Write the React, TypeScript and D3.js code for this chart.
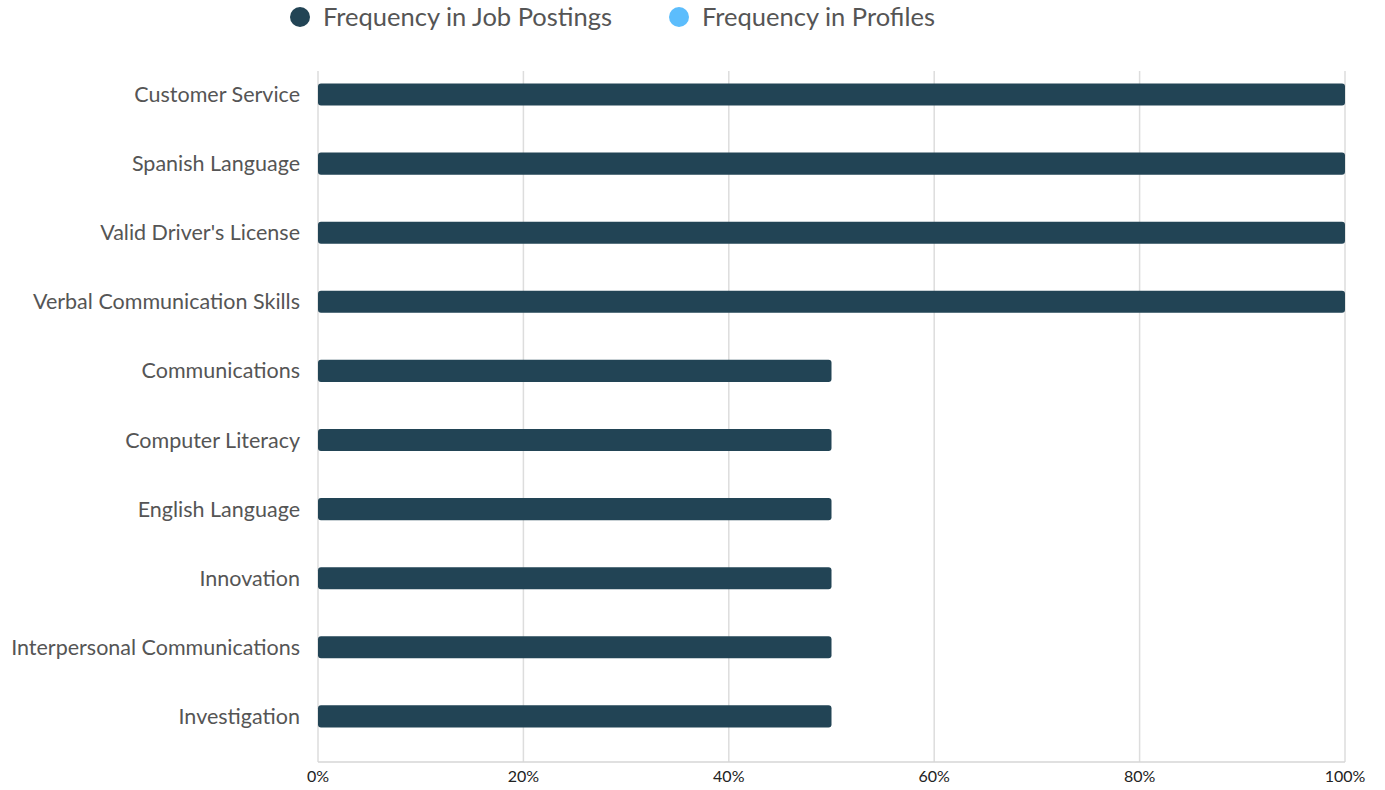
import { useEffect, useRef } from 'react';
import * as d3 from 'd3';

const WIDTH = 1385;
const HEIGHT = 790;
const MARGIN = { top: 71, right: 40, bottom: 28, left: 318 } as const;
const FONT = 'Lato, "Open Sans", sans-serif';

const CATEGORIES = [
  'Customer Service',
  'Spanish Language',
  "Valid Driver's License",
  'Verbal Communication Skills',
  'Communications',
  'Computer Literacy',
  'English Language',
  'Innovation',
  'Interpersonal Communications',
  'Investigation',
];
const JOB_POSTINGS = [1, 1, 1, 1, 0.5, 0.5, 0.5, 0.5, 0.5, 0.5];
const PROFILES = [0, 0, 0, 0, 0, 0, 0, 0, 0, 0];
const SERIES_NAMES = ['Frequency in Job Postings', 'Frequency in Profiles'];
const SERIES_COLORS = ['#224455', '#5cbdfc'];
const X_TICKS = [0, 0.2, 0.4, 0.6, 0.8, 1];

export default function App() {
  const svgRef = useRef<SVGSVGElement | null>(null);

  useEffect(() => {
    const svgEl = svgRef.current;
    if (!svgEl) return;
    const svg = d3.select(svgEl);
    svg.selectAll('*').remove();

    const innerWidth = WIDTH - MARGIN.left - MARGIN.right;
    const innerHeight = HEIGHT - MARGIN.top - MARGIN.bottom;

    const x = d3.scaleLinear().domain([0, 1]).range([0, innerWidth]);
    const y = d3.scaleBand<string>().domain(CATEGORIES).range([0, innerHeight]).paddingInner(0.36).paddingOuter(0.18);
    const ySub = d3.scaleBand<number>().domain([0, 1]).range([0, y.bandwidth()]);

    const root = svg.append('g').attr('transform', `translate(${MARGIN.left}, ${MARGIN.top})`);

    // grid
    root
      .append('g')
      .selectAll('line')
      .data(X_TICKS)
      .join('line')
      .attr('x1', (d) => x(d))
      .attr('x2', (d) => x(d))
      .attr('y1', 0)
      .attr('y2', innerHeight)
      .attr('stroke', '#dddddd')
      .attr('stroke-width', 1.5);

    // bottom axis line
    root
      .append('line')
      .attr('x1', 0)
      .attr('x2', innerWidth)
      .attr('y1', innerHeight)
      .attr('y2', innerHeight)
      .attr('stroke', '#d6d6d6')
      .attr('stroke-width', 1.5);

    // x tick labels
    root
      .append('g')
      .selectAll('text')
      .data(X_TICKS)
      .join('text')
      .attr('x', (d) => x(d))
      .attr('y', innerHeight + 20)
      .attr('text-anchor', 'middle')
      .attr('font-family', FONT)
      .attr('font-size', 16)
      .attr('fill', '#222222')
      .text((d) => `${Math.round(d * 100)}%`);

    // category labels
    root
      .append('g')
      .selectAll('text')
      .data(CATEGORIES)
      .join('text')
      .attr('x', -18)
      .attr('y', (d) => (y(d) ?? 0) + ySub.bandwidth() / 2)
      .attr('dy', '0.35em')
      .attr('text-anchor', 'end')
      .attr('font-family', FONT)
      .attr('font-size', 21.5)
      .attr('fill', '#555555')
      .text((d) => d);

    // bars
    [JOB_POSTINGS, PROFILES].forEach((values, si) => {
      root
        .append('g')
        .selectAll('rect')
        .data(values.map((v, i) => ({ cat: CATEGORIES[i], v })).filter((d) => d.v > 0))
        .join('rect')
        .attr('x', 0)
        .attr('y', (d) => (y(d.cat) ?? 0) + (ySub(si) ?? 0))
        .attr('width', (d) => x(d.v))
        .attr('height', ySub.bandwidth())
        .attr('rx', 3)
        .attr('fill', SERIES_COLORS[si]);
    });

    // legend
    const legendX = [300, 679];
    SERIES_NAMES.forEach((name, i) => {
      const g = svg.append('g').attr('transform', `translate(${legendX[i]}, 17)`);
      g.append('circle').attr('r', 10).attr('fill', SERIES_COLORS[i]);
      g.append('text')
        .attr('x', 23)
        .attr('dy', '0.35em')
        .attr('font-family', FONT)
        .attr('font-size', 25.5)
        .attr('fill', '#555555')
        .text(name);
    });
  }, []);

  return (
    <div style={{ position: 'absolute', left: 0, top: 0 }}>
      <svg ref={svgRef} width={WIDTH} height={HEIGHT} style={{ display: 'block', background: '#ffffff' }} />
    </div>
  );
}
